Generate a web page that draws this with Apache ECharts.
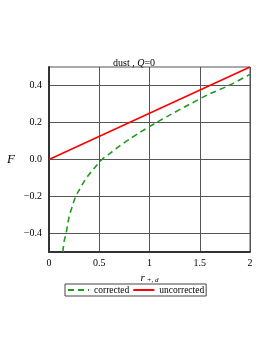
<!DOCTYPE html>
<html><head><meta charset="utf-8">
<script src="https://cdn.jsdelivr.net/npm/echarts@6/dist/echarts.min.js"></script>
<style>html,body{margin:0;padding:0;background:#fff}#c{width:273px;height:353px}</style>
</head><body><div id="c"></div>
<script>
const xTicks = [0, 0.5, 1, 1.5, 2];
const yTicks = [-0.4, -0.2, 0, 0.2, 0.4];
const correctedR = [0.138, 0.15, 0.17, 0.2, 0.23, 0.265, 0.3, 0.35, 0.4, 0.45, 0.527, 0.6, 0.7, 0.8, 0.9, 1.07, 1.2, 1.4, 1.6, 1.79, 2.0];
const correctedF = [-0.5, -0.443, -0.4, -0.31, -0.256, -0.2, -0.165, -0.118, -0.08, -0.047, 0, 0.03, 0.072, 0.11, 0.145, 0.2, 0.24, 0.299, 0.355, 0.4, 0.46];
const uncorrectedR = [0, 2];
const uncorrectedF = [0, 0.5];
const font = 'Liberation Serif';
const chart = echarts.init(document.getElementById('c'), null, {renderer: 'canvas'});
chart.setOption({
  animation: false,
  title: {
    text: 'dust , {i|Q}=0', left: 108, top: 53,
    textStyle: {fontFamily: font, fontSize: 10, fontWeight: 'normal', color: '#000',
      rich: {i: {fontFamily: font, fontStyle: 'italic', fontSize: 10, color: '#000'}}}
  },
  grid: {left: 49, right: 23, top: 67, bottom: 101, show: true, borderColor: '#555', borderWidth: 1},
  legend: {
    top: 284, left: 65, itemWidth: 21, itemHeight: 8, itemGap: 3,
    borderColor: '#444', borderWidth: 1, padding: [1, 2, 1, 2], borderRadius: 0,
    itemStyle: {opacity: 0},
    textStyle: {fontFamily: font, fontSize: 9.5, color: '#000'},
    data: ['corrected', 'uncorrected']
  },
  xAxis: {
    type: 'value', min: 0, max: 2, interval: 0.5,
    name: '{i|r}{s| +, d}', nameLocation: 'middle', nameGap: 11,
    nameTextStyle: {fontFamily: font, fontSize: 11, color: '#000',
      rich: {i: {fontFamily: font, fontStyle: 'italic', fontSize: 11, color: '#000'},
             s: {fontFamily: font, fontStyle: 'italic', fontSize: 7, color: '#000', verticalAlign: 'bottom', padding: [4, 0, 0, 0]}}},
    axisLine: {show: true, onZero: false, lineStyle: {color: '#333', width: 2}},
    axisTick: {show: false},
    axisLabel: {fontFamily: font, fontSize: 10, color: '#000', margin: 6,
      formatter: v => String(v)},
    splitLine: {show: true, lineStyle: {color: '#555', width: 1}}
  },
  yAxis: {
    type: 'value', min: -0.5, max: 0.5,
    name: 'F', nameLocation: 'middle', nameGap: 34, nameRotate: 0,
    nameTextStyle: {fontFamily: font, fontStyle: 'italic', fontSize: 13, color: '#000'},
    axisLine: {show: true, onZero: false, lineStyle: {color: '#333', width: 2}},
    axisTick: {show: false, customValues: yTicks},
    axisLabel: {fontFamily: font, fontSize: 10, color: '#000', margin: 7, customValues: yTicks,
      formatter: v => (v < 0 ? '\u2212' : '') + Math.abs(v).toFixed(1)},
    splitLine: {show: true, lineStyle: {color: '#555', width: 1}}
  },
  series: [
    {name: 'corrected', type: 'line', smooth: 0.3, symbol: 'none', clip: true,
      data: correctedR.map((r, i) => [r, correctedF[i]]),
      lineStyle: {color: '#1f9a1f', width: 1.6, type: [6, 4]}, itemStyle: {color: '#1f9a1f'}},
    {name: 'uncorrected', type: 'line', symbol: 'none',
      data: uncorrectedR.map((r, i) => [r, uncorrectedF[i]]),
      lineStyle: {color: '#ff0000', width: 1.6}, itemStyle: {color: '#ff0000'}}
  ]
});
</script></body></html>
